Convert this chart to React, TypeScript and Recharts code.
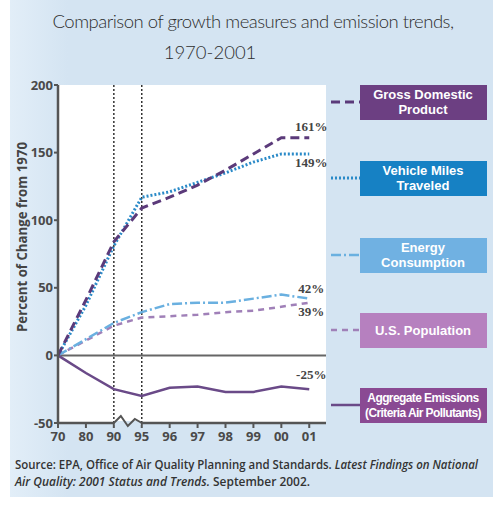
import React from 'react'
import {
  ComposedChart, Line, XAxis, YAxis, CartesianGrid, ReferenceLine, ReferenceDot, LabelList,
} from 'recharts'

const years = ['70', '80', '90', '95', '96', '97', '98', '99', '00', '01']
const gdp = [0, 41, 84, 109, 117, 126, 137, 149, 161, 161]
const vmt = [0, 37, 81, 117, 121, 128, 135, 143, 149, 149]
const energy = [0, 12, 24, 32, 38, 39, 39, 42, 45, 42]
const population = [0, 11, 22, 28, 29, 30, 32, 33, 36, 39]
const emissions = [0, -13, -25, -30, -24, -23, -27, -27, -23, -25]
const yTicks = [-50, 0, 50, 100, 150, 200]

const data = years.map((y, i) => ({
  i, year: y,
  gdp: gdp[i], vmt: vmt[i], energy: energy[i], population: population[i], emissions: emissions[i],
}))

const last = years.length - 1
const axisColor = '#555'
const tickStyle = { fontSize: 13, fontWeight: 700, fill: '#4a4a4a', fontFamily: '"Open Sans", sans-serif' }

/* end-of-line percentage label */
const endLabel = (dy: number) => (props: any) => {
  const { x, y, index, value } = props
  if (index !== last) return null
  return (
    <text x={x + 2} y={y + dy} textAnchor="middle" dominantBaseline="middle"
      fontSize={13} fontWeight={700} fill="#444" fontFamily='"Liberation Serif", serif'>
      {value}%
    </text>
  )
}

/* axis break squiggle between 90 and 95 */
const BreakMark = (props: any) => {
  const { cx, cy } = props
  if (cx == null) return null
  return (
    <g>
      <line x1={cx + 1} y1={cy} x2={cx + 27} y2={cy} stroke="#d4e4f2" strokeWidth={4} />
      <polyline points={`${cx},${cy} ${cx + 7},${cy - 7} ${cx + 14},${cy + 3} ${cx + 21},${cy - 4} ${cx + 28},${cy}`}
        fill="none" stroke={axisColor} strokeWidth={2} />
    </g>
  )
}

const legend = [
  { lines: ['Gross Domestic', 'Product'], color: '#6c3f82', stroke: '#5b3a7a', dash: '9 5', width: 3, top: 85 },
  { lines: ['Vehicle Miles', 'Traveled'], color: '#1681c4', stroke: '#2a8ac8', dash: '2 2', width: 3, top: 161 },
  { lines: ['Energy', 'Consumption'], color: '#70b1e2', stroke: '#6ab0e0', dash: '10 3 2 3', width: 2.5, top: 238 },
  { lines: ['U.S. Population'], color: '#b680bf', stroke: '#a080b8', dash: '6 5', width: 2.5, top: 313 },
  { lines: ['Aggregate Emissions', '(Criteria Air Pollutants)'], color: '#8a4a93', stroke: '#6a4a88', dash: undefined, width: 2.5, top: 388 },
]

export default function App() {
  return (
    <div style={{ position: 'absolute', left: 0, top: 0, width: 493, height: 518, background: '#fff', overflow: 'hidden' }}>
      <div style={{ position: 'absolute', left: 10, top: 0, width: 483, height: 497,
        background: 'linear-gradient(90deg, #e2eef8 0%, #d4e4f2 12%, #d4e4f2 100%)' }} />

      <div style={{ position: 'absolute', left: 0, top: 0 }}>
        <ComposedChart width={493} height={518} data={data}
          margin={{ top: 85, right: 167, bottom: 65, left: 18 }}>
          <CartesianGrid fill="#fff" horizontal={false} vertical={false} />
          <XAxis dataKey="i" type="number" domain={[0, 9.6]} ticks={years.map((_, i) => i)}
            tickFormatter={(v: number) => years[v] ?? ''} allowDataOverflow
            height={30} tick={tickStyle} tickSize={5} tickMargin={4}
            axisLine={{ stroke: axisColor, strokeWidth: 2.5 }} tickLine={{ stroke: axisColor, strokeWidth: 2 }} />
          <XAxis xAxisId="top" dataKey="i" type="number" domain={[0, 9.6]} orientation="top" height={0}
            tick={false} tickLine={false} axisLine={{ stroke: '#666', strokeWidth: 2 }} />
          <YAxis domain={[-50, 200]} ticks={yTicks} width={40} tick={tickStyle} tickSize={4} tickMargin={1}
            axisLine={{ stroke: axisColor, strokeWidth: 2.5 }} tickLine={{ stroke: axisColor, strokeWidth: 2 }} />
          <YAxis yAxisId="right" orientation="right" width={0} domain={[-50, 200]} tick={false} tickLine={false}
            axisLine={{ stroke: '#999', strokeWidth: 1 }} />

          <ReferenceLine x={2} stroke="#333" strokeWidth={1.5} strokeDasharray="2 2" />
          <ReferenceLine x={3} stroke="#333" strokeWidth={1.5} strokeDasharray="2 2" />
          <ReferenceLine y={0} stroke="#666" strokeWidth={2} />
          <ReferenceDot x={2} y={-50} r={0} shape={<BreakMark />} ifOverflow="visible" />

          <Line type="linear" dataKey="population" stroke="#a080b8" strokeWidth={2.5} strokeDasharray="6 5" dot={false} isAnimationActive={false}>
            <LabelList dataKey="population" content={endLabel(10)} />
          </Line>
          <Line type="linear" dataKey="energy" stroke="#6ab0e0" strokeWidth={2.5} strokeDasharray="10 3 2 3" dot={false} isAnimationActive={false}>
            <LabelList dataKey="energy" content={endLabel(-9)} />
          </Line>
          <Line type="linear" dataKey="emissions" stroke="#6a4a88" strokeWidth={2.5} dot={false} isAnimationActive={false}>
            <LabelList dataKey="emissions" content={endLabel(-13)} />
          </Line>
          <Line type="linear" dataKey="vmt" stroke="#2a8ac8" strokeWidth={3} strokeDasharray="2 2" dot={false} isAnimationActive={false}>
            <LabelList dataKey="vmt" content={endLabel(10)} />
          </Line>
          <Line type="linear" dataKey="gdp" stroke="#5b3a7a" strokeWidth={3} strokeDasharray="9 5" dot={false} isAnimationActive={false}>
            <LabelList dataKey="gdp" content={endLabel(-10)} />
          </Line>
        </ComposedChart>
      </div>

      {/* titles, axis title, legend, source */}
      <svg width={493} height={518} style={{ position: 'absolute', left: 0, top: 0, pointerEvents: 'none' }}>
        <text x={253} y={28} textAnchor="middle" fontSize={18.5} fill="#2e2e2e" fontFamily="Lato, sans-serif" fontWeight={300}
          letterSpacing={-0.5}>
          Comparison of growth measures and emission trends,
        </text>
        <text x={210} y={59} textAnchor="middle" fontSize={18.5} fill="#2e2e2e" fontFamily="Lato, sans-serif" fontWeight={300}>
          1970-2001
        </text>

        <text transform="translate(27,237) rotate(-90)" textAnchor="middle" fontSize={14} fontWeight={700}
          fill="#444" fontFamily='"Open Sans", sans-serif' textLength={190} lengthAdjust="spacingAndGlyphs">
          Percent of Change from 1970
        </text>

        {legend.map((l) => {
          const cy = l.top + 17
          return (
            <g key={l.lines[0]}>
              <line x1={331} y1={cy} x2={360} y2={cy} stroke={l.stroke} strokeWidth={l.width} strokeDasharray={l.dash} />
              <rect x={360} y={l.top} width={127} height={35} fill={l.color} />
              {l.lines.map((t, k) => {
                const ty = l.lines.length === 1 ? cy + 5 : cy - 3 + k * 15
                const long = t.length > 16
                return (
                  <text key={t} x={423} y={ty} textAnchor="middle" fontSize={long ? 12 : 13} fontWeight={700} fill="#fff"
                    fontFamily='"Liberation Sans", Arial, sans-serif' letterSpacing={long ? -0.6 : 0}>
                    {t}
                  </text>
                )
              })}
            </g>
          )
        })}

        <text x={15} y={469} fontSize={12} fontWeight={600} fill="#333" fontFamily='"Open Sans", sans-serif'
          textLength={463} lengthAdjust="spacingAndGlyphs">
          Source: EPA, Office of Air Quality Planning and Standards.{'  '}
          <tspan fontStyle="italic">Latest Findings on National</tspan>
        </text>
        <text x={15} y={486} fontSize={12} fontWeight={600} fill="#333" fontFamily='"Open Sans", sans-serif'
          textLength={295} lengthAdjust="spacingAndGlyphs">
          <tspan fontStyle="italic">Air Quality: 2001 Status and Trends.</tspan>{'  '}September 2002.
        </text>
      </svg>
    </div>
  )
}
